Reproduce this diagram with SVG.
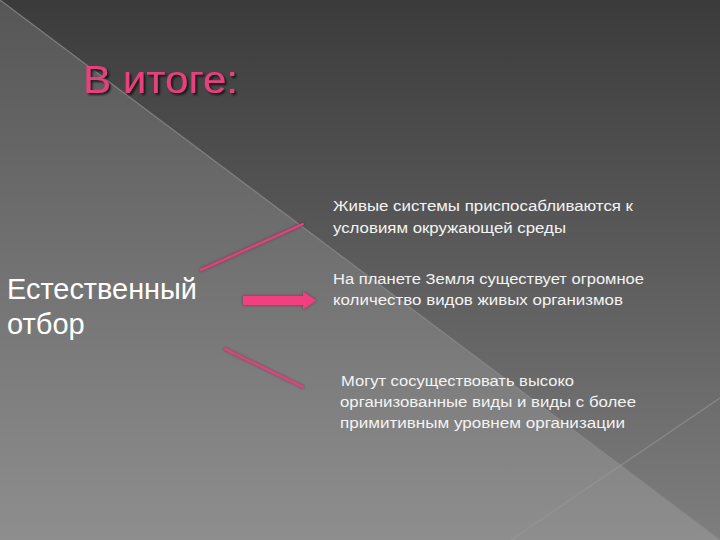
<svg xmlns="http://www.w3.org/2000/svg" width="720" height="540" viewBox="0 0 720 540">
  <defs>
    <linearGradient id="bgLow" x1="0" y1="0" x2="0" y2="1">
      <stop offset="0" stop-color="#565656"/>
      <stop offset="1" stop-color="#8e8e8e"/>
    </linearGradient>
    <linearGradient id="bgHigh" x1="0" y1="0" x2="0" y2="1">
      <stop offset="0" stop-color="#3b3b3b"/>
      <stop offset="1" stop-color="#7e7e7e"/>
    </linearGradient>
    <filter id="glow" x="-20%" y="-50%" width="140%" height="200%">
      <feGaussianBlur in="SourceAlpha" stdDeviation="1.5" result="b"/>
      <feFlood flood-color="#7a1a3c" flood-opacity="0.8"/>
      <feComposite in2="b" operator="in" result="s"/>
      <feMerge><feMergeNode in="s"/><feMergeNode in="SourceGraphic"/></feMerge>
    </filter>
    <filter id="tshadow" x="-10%" y="-30%" width="120%" height="160%">
      <feGaussianBlur in="SourceAlpha" stdDeviation="1" result="b"/>
      <feOffset in="b" dx="1.5" dy="1.5" result="o"/>
      <feFlood flood-color="#000" flood-opacity="0.7"/>
      <feComposite in2="o" operator="in" result="s"/>
      <feMerge><feMergeNode in="s"/><feMergeNode in="SourceGraphic"/></feMerge>
    </filter>
  </defs>
  <style>
    .title { font-family: "Liberation Sans", "DejaVu Sans", sans-serif; font-size: 38px; fill: #e8407c; }
    .main { font-family: "Liberation Sans", "DejaVu Sans", sans-serif; font-size: 29px; fill: #ffffff; }
    .item { font-family: "Liberation Sans", "DejaVu Sans", sans-serif; font-size: 14px; fill: #f4f4f4; }
    .conn { stroke: #e8407c; stroke-width: 2; fill: none; stroke-linecap: round; }
  </style>

  <!-- background -->
  <rect x="0" y="0" width="720" height="540" fill="url(#bgLow)"/>
  <polygon points="0,0 720,0 720,540" fill="url(#bgHigh)"/>
  <line x1="0" y1="0" x2="720" y2="540" stroke="#8a8a8a" stroke-width="1.2" opacity="0.8"/>
  <line x1="720" y1="398" x2="511" y2="540" stroke="#9a9a9a" stroke-width="1.2" opacity="0.6"/>

  <g id="title">
    <text class="title" x="83" y="93" textLength="155" lengthAdjust="spacingAndGlyphs" filter="url(#tshadow)">В итоге:</text>
  </g>

  <g id="node-main">
    <text class="main" x="7" y="299" textLength="190" lengthAdjust="spacingAndGlyphs">Естественный</text>
    <text class="main" x="7" y="334">отбор</text>
  </g>

  <g id="node-1">
    <text class="item" x="333" y="211" textLength="300" lengthAdjust="spacingAndGlyphs">Живые системы приспосабливаются к</text>
    <text class="item" x="333" y="233" textLength="233" lengthAdjust="spacingAndGlyphs">условиям окружающей среды</text>
  </g>

  <g id="node-2">
    <text class="item" x="333" y="284" textLength="311" lengthAdjust="spacingAndGlyphs">На планете Земля существует огромное</text>
    <text class="item" x="333" y="305" textLength="290" lengthAdjust="spacingAndGlyphs">количество видов живых организмов</text>
  </g>

  <g id="node-3">
    <text class="item" x="341" y="386" textLength="233" lengthAdjust="spacingAndGlyphs">Могут сосуществовать высоко</text>
    <text class="item" x="340" y="407" textLength="296" lengthAdjust="spacingAndGlyphs">организованные виды и виды с более</text>
    <text class="item" x="340" y="428" textLength="285" lengthAdjust="spacingAndGlyphs">примитивным уровнем организации</text>
  </g>

  <g id="connectors" filter="url(#glow)">
    <line class="conn" x1="201" y1="270" x2="303" y2="224"/>
    <path d="M243,296 L303,296 L303,291.5 L316,300.5 L303,309.5 L303,305 L243,305 Z" fill="#f0417f"/>
    <line class="conn" x1="225" y1="349" x2="303" y2="387"/>
  </g>
</svg>
